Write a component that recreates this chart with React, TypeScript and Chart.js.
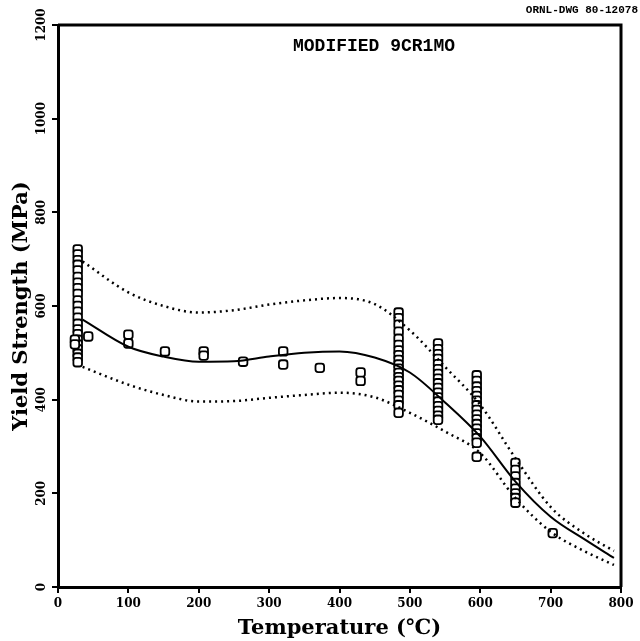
import React, { useEffect, useRef } from "react";
import { Chart, registerables } from "chart.js";

Chart.register(...registerables);

const xTicks = [0, 100, 200, 300, 400, 500, 600, 700, 800];
const yTicks = [0, 200, 400, 600, 800, 1000, 1200];

const curveTemps = [35, 100, 150, 200, 250, 300, 350, 400, 450, 500, 550, 600, 650, 700, 750, 790];
const meanStrength = [571, 513, 492, 481, 482, 492, 500, 503, 490, 458, 394, 321, 225, 150, 100, 62];
const upperBound = [695, 629, 600, 586, 591, 603, 612, 617, 604, 548, 470, 389, 275, 171, 112, 77];
const lowerBound = [470, 432, 410, 396, 397, 404, 410, 415, 405, 372, 332, 286, 190, 118, 75, 47];

const testTemps = [28, 24, 43, 100, 152, 207, 263, 320, 372, 430, 484, 540, 595, 650, 703];
const testStrengths = [
  [721, 710, 698, 688, 676, 662, 650, 638, 626, 612, 600, 588, 575, 562, 550, 540, 528, 518, 508, 498, 490, 480],
  [528, 518],
  [535],
  [539, 520],
  [503],
  [503, 494],
  [481],
  [503, 475],
  [468],
  [458, 440],
  [586, 574, 560, 545, 530, 517, 505, 495, 485, 475, 466, 457, 448, 440, 430, 420, 410, 398, 388, 372],
  [520, 508, 497, 487, 476, 465, 455, 445, 435, 425, 415, 405, 396, 386, 376, 366, 357],
  [452, 440, 428, 418, 408, 398, 388, 378, 368, 358, 348, 338, 328, 318, 308, 278],
  [265, 250, 236, 222, 210, 200, 190, 180],
  [115],
];

const titleText = "MODIFIED 9CR1MO";
const dwgText = "ORNL-DWG 80-12078";
const xTitle = "Temperature (\u2103)";
const yTitle = "Yield Strength (MPa)";

const decor = {
  id: "decor",
  afterDraw(chart: any) {
    const { ctx, chartArea, scales } = chart;
    const { left, right, top, bottom } = chartArea;
    ctx.save();
    ctx.strokeStyle = "#000";
    ctx.lineWidth = 3;
    ctx.beginPath();
    ctx.moveTo(left, top);
    ctx.lineTo(right, top);
    ctx.lineTo(right, bottom);
    ctx.stroke();
    ctx.fillStyle = "#000";
    ctx.font = 'bold 12px "DejaVu Serif"';
    ctx.textAlign = "center";
    ctx.textBaseline = "middle";
    yTicks.forEach((v) => {
      const py = scales.y.getPixelForValue(v);
      ctx.save();
      ctx.translate(42, py);
      ctx.rotate(-Math.PI / 2);
      ctx.fillText(String(v), 0, 0);
      ctx.restore();
    });
    ctx.font = 'bold 18px "Liberation Mono"';
    ctx.fillText(titleText, 374, 46);
    ctx.font = 'bold 11px "Liberation Mono"';
    ctx.textAlign = "right";
    ctx.fillText(dwgText, 638, 10);
    ctx.restore();
  },
};

export default function App() {
  const ref = useRef<HTMLCanvasElement>(null);
  useEffect(() => {
    document.body.style.margin = "0";
    const pts: { x: number; y: number }[] = [];
    testTemps.forEach((t, i) => testStrengths[i].forEach((v) => pts.push({ x: t, y: v })));
    const curve = (vals: number[]) => curveTemps.map((t, i) => ({ x: t, y: vals[i] }));
    const chart = new Chart(ref.current!, {
      type: "line",
      data: {
        datasets: [
          {
            data: curve(meanStrength),
            borderColor: "#000",
            borderWidth: 2,
            pointRadius: 0,
            cubicInterpolationMode: "monotone",
            fill: false,
          },
          {
            data: curve(upperBound),
            borderColor: "#000",
            borderWidth: 2.5,
            borderDash: [2, 4],
            pointRadius: 0,
            cubicInterpolationMode: "monotone",
            fill: false,
          },
          {
            data: curve(lowerBound),
            borderColor: "#000",
            borderWidth: 2.5,
            borderDash: [2, 4],
            pointRadius: 0,
            cubicInterpolationMode: "monotone",
            fill: false,
          },
          {
            data: pts,
            showLine: false,
            pointStyle: "rectRounded",
            pointRadius: 5,
            pointBorderWidth: 1.8,
            pointBorderColor: "#000",
            pointBackgroundColor: "#fff",
          },
        ] as any,
      },
      options: {
        responsive: false,
        animation: false,
        devicePixelRatio: 1,
        layout: { padding: { top: 25, right: 19, left: 0, bottom: 0 } },
        plugins: { legend: { display: false }, tooltip: { enabled: false } },
        scales: {
          x: {
            type: "linear",
            min: 0,
            max: 800,
            afterBuildTicks: (s: any) => {
              s.ticks = xTicks.map((v) => ({ value: v }));
            },
            afterFit: (s: any) => {
              s.height = 54;
            },
            border: { display: true, color: "#000", width: 3 },
            grid: { display: true, drawOnChartArea: false, drawTicks: true, tickLength: 6, color: "#000", lineWidth: 2 },
            ticks: { color: "#000", font: { family: "DejaVu Serif", weight: "bold", size: 12 }, padding: 4, maxRotation: 0 },
            title: {
              display: true,
              text: xTitle,
              color: "#000",
              font: { family: "DejaVu Serif", weight: "bold", size: 21 },
              padding: { top: 0, bottom: 0 },
            },
          },
          y: {
            type: "linear",
            min: 0,
            max: 1200,
            afterBuildTicks: (s: any) => {
              s.ticks = yTicks.map((v) => ({ value: v }));
            },
            afterFit: (s: any) => {
              s.width = 58;
            },
            border: { display: true, color: "#000", width: 3 },
            grid: { display: true, drawOnChartArea: false, drawTicks: true, tickLength: 6, color: "#000", lineWidth: 2 },
            ticks: { display: false },
            title: {
              display: true,
              text: yTitle,
              color: "#000",
              font: { family: "DejaVu Serif", weight: "bold", size: 21 },
              padding: { top: 9, bottom: 0 },
            },
          },
        },
      },
      plugins: [decor],
    } as any);
    return () => chart.destroy();
  }, []);
  return (
    <div style={{ width: 640, height: 641, position: "relative", background: "#fff" }}>
      <canvas ref={ref} width={640} height={641} style={{ display: "block" }} />
    </div>
  );
}
